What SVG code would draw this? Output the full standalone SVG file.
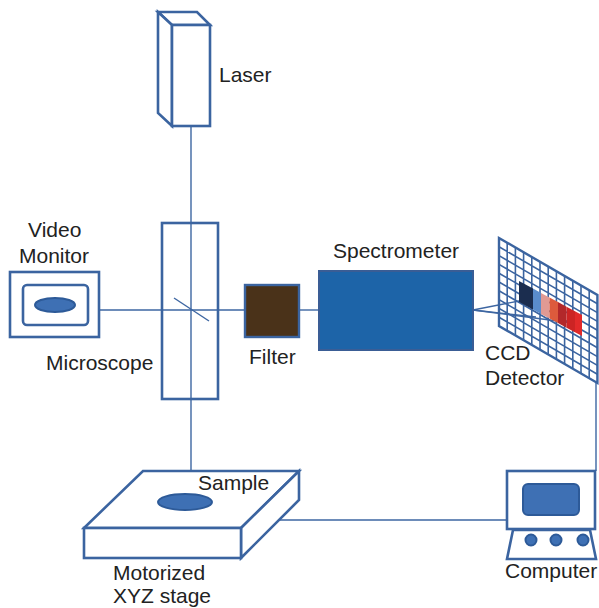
<svg xmlns="http://www.w3.org/2000/svg" width="599" height="608" viewBox="0 0 599 608">
  <style>
    .box { fill: #ffffff; stroke: #3b64a0; stroke-width: 2.6; stroke-linejoin: miter; }
    .beam { fill: none; stroke: #3d66a2; stroke-width: 1.4; }
    .blob { fill: #3e70b4; stroke: #2d5a98; stroke-width: 2; }
    .lbl { font-family: "Liberation Sans", Arial, sans-serif; font-size: 21px; fill: #222222; }
    .grid { fill: none; stroke: #3b64a0; stroke-width: 1.6; vector-effect: non-scaling-stroke; }
    .gridedge { fill: none; stroke: #3b64a0; stroke-width: 2.4; vector-effect: non-scaling-stroke; }
  </style>

  <rect x="0" y="0" width="599" height="608" fill="#ffffff"/>

  <!-- optical path and signal cables -->
  <g id="connectors">
    <line class="beam" x1="191" y1="126" x2="191" y2="494"/>
    <line class="beam" x1="99" y1="310" x2="245" y2="310"/>
    <line class="beam" x1="174" y1="298" x2="209" y2="321"/>
    <line class="beam" x1="299" y1="310" x2="319" y2="310"/>
    <line class="beam" x1="279" y1="520" x2="507" y2="520"/>
    <line class="beam" x1="596" y1="382" x2="596" y2="471"/>
    <line class="beam" x1="473" y1="310" x2="519" y2="301"/>
    <line class="beam" x1="473" y1="310" x2="536" y2="317"/>
    <line class="beam" x1="473" y1="310" x2="580" y2="324"/>
  </g>

  <g id="laser">
    <polygon class="box" points="158,12 197,12 210,25 172,25"/>
    <polygon class="box" points="158,12 172,25 172,126 158,113"/>
    <rect class="box" x="172" y="25" width="38" height="101"/>
    <text class="lbl" x="219" y="82">Laser</text>
  </g>

  <g id="microscope">
    <rect x="162" y="223" width="56" height="176" fill="none" stroke="#3b64a0" stroke-width="2.6"/>
    <text class="lbl" x="46" y="370">Microscope</text>
  </g>

  <g id="video-monitor">
    <rect class="box" x="10" y="272" width="89" height="65"/>
    <rect class="box" x="23" y="285" width="65" height="40" rx="4"/>
    <ellipse class="blob" cx="55" cy="305" rx="20" ry="7"/>
    <text class="lbl" x="28" y="237">Video</text>
    <text class="lbl" x="19" y="263">Monitor</text>
  </g>

  <g id="filter">
    <rect x="245" y="285" width="54" height="52" fill="#4a3219" stroke="#3b64a0" stroke-width="2.4"/>
    <text class="lbl" x="249" y="364">Filter</text>
  </g>

  <g id="spectrometer">
    <rect x="319" y="271" width="154" height="79" fill="#1d64a8" stroke="#3a5d95" stroke-width="2"/>
    <text class="lbl" x="333" y="258">Spectrometer</text>
  </g>

  <g id="ccd-detector">
    <g transform="matrix(8.2 4.75 0 8.8 499 238)">
      <path class="grid" d="M1 0V10M2 0V10M3 0V10M4 0V10M5 0V10M6 0V10M7 0V10M8 0V10M9 0V10M10 0V10M11 0V10M0 1H12M0 2H12M0 3H12M0 4H12M0 5H12M0 6H12M0 7H12M0 8H12M0 9H12"/>
      <rect class="gridedge" x="0" y="0" width="12" height="10"/>
    </g>
    <polygon fill="#1b2d4f" points="519,281 533,288.6 533,309.6 519,302"/>
    <polygon fill="#5a8ccc" points="533,288.6 541,292.9 541,313.9 533,309.6"/>
    <polygon fill="#e09a94" points="541,292.9 549.5,297.5 549.5,318.5 541,313.9"/>
    <polygon fill="#dd5a3c" points="549.5,297.5 558,302.1 558,323.1 549.5,318.5"/>
    <polygon fill="#b3282a" points="558,302.1 566.5,306.7 566.5,327.7 558,323.1"/>
    <polygon fill="#cc2424" points="566.5,306.7 575,311.3 575,332.3 566.5,327.7"/>
    <polygon fill="#e22a2a" points="575,311.3 582,315 582,336 575,332.3"/>
    <text class="lbl" x="485" y="360">CCD</text>
    <text class="lbl" x="485" y="385">Detector</text>
  </g>

  <g id="xyz-stage">
    <polygon class="box" points="143,471 299,471 241,528 84,528"/>
    <polygon class="box" points="299,471 299,500 241,558 241,528"/>
    <rect class="box" x="84" y="528" width="157" height="30"/>
    <ellipse class="blob" cx="185" cy="502" rx="27" ry="8"/>
    <text class="lbl" x="198" y="490">Sample</text>
    <text class="lbl" x="113" y="580">Motorized</text>
    <text class="lbl" x="113" y="603">XYZ stage</text>
  </g>

  <g id="computer">
    <rect class="box" x="507" y="471" width="88" height="58"/>
    <rect class="blob" x="523" y="484" width="56" height="31" rx="5"/>
    <polygon class="box" points="513,530 590,530 596,559 507,559"/>
    <circle class="blob" cx="531" cy="540" r="5.5"/>
    <circle class="blob" cx="556" cy="540" r="5.5"/>
    <circle class="blob" cx="583" cy="540" r="5.5"/>
    <text class="lbl" x="505" y="578">Computer</text>
  </g>
</svg>
